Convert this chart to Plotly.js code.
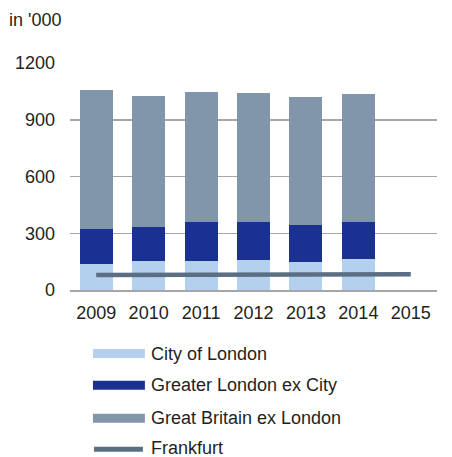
<!DOCTYPE html>
<html>
<head>
<meta charset="utf-8">
<script src="https://cdn.plot.ly/plotly-3.0.1.min.js"></script>
<style>html,body{margin:0;padding:0;background:#fff;}#chart{width:452px;height:457px;}</style>
</head>
<body>
<div id="chart"></div>
<script>
var years = ['2009', '2010', '2011', '2012', '2013', '2014', '2015'];
var barYears = ['2009', '2010', '2011', '2012', '2013', '2014'];
var cityOfLondon = [138, 152, 155, 161, 148, 164];
var greaterLondonExCity = [183, 182, 202, 199, 193, 193];
var greatBritainExLondon = [737, 690, 692, 682, 678, 681];
var frankfurt = [79, 80, 80, 81, 81, 82, 83];
var yTicks = [0, 300, 600, 900, 1200];
var seriesNames = ['City of London', 'Greater London ex City', 'Great Britain ex London', 'Frankfurt'];
var seriesColors = ['#b3d0ee', '#1a3192', '#8196aa', '#5b6f84'];

var FONT = 'Liberation Sans, Arial, sans-serif';
var W = 452, H = 457;
var L = 70, R = 14.5, T = 63.33, B = 167;
var pw = W - L - R, ph = H - T - B;
function px(x) { return (x - L) / pw; }
function py(y) { return (H - B - y) / ph; }

var traces = [
  {type: 'bar', x: barYears, y: cityOfLondon, name: seriesNames[0], marker: {color: seriesColors[0]}, showlegend: false},
  {type: 'bar', x: barYears, y: greaterLondonExCity, name: seriesNames[1], marker: {color: seriesColors[1]}, showlegend: false},
  {type: 'bar', x: barYears, y: greatBritainExLondon, name: seriesNames[2], marker: {color: seriesColors[2]}, showlegend: false},
  {type: 'scatter', mode: 'lines', x: years, y: frankfurt, name: seriesNames[3], line: {color: seriesColors[3], width: 4.5}, showlegend: false}
];

var legendY = [353.5, 385, 418, 448];
var shapes = [];
var annotations = [];
for (var i = 0; i < 4; i++) {
  if (i < 3) {
    shapes.push({type: 'rect', xref: 'paper', yref: 'paper', x0: px(93), x1: px(145), y0: py(legendY[i] - 4.5), y1: py(legendY[i] + 4.5), fillcolor: seriesColors[i], line: {width: 0}});
  } else {
    shapes.push({type: 'line', xref: 'paper', yref: 'paper', x0: px(94), x1: px(143), y0: py(legendY[i] + 1), y1: py(legendY[i] + 1), line: {color: seriesColors[i], width: 5}});
  }
  annotations.push({xref: 'paper', yref: 'paper', x: px(149), y: py(legendY[i]), xanchor: 'left', yanchor: 'middle', showarrow: false, text: seriesNames[i], font: {family: FONT, size: 18, color: '#231f20'}});
}

var layout = {
  width: W, height: H,
  margin: {l: L, r: R, t: T, b: B, pad: 0},
  paper_bgcolor: '#fff', plot_bgcolor: '#fff',
  barmode: 'stack', bargap: 0.37,
  showlegend: false,
  title: {text: "in '000", x: 9 / W, xanchor: 'left', xref: 'container', y: 1 - 20 / H, yanchor: 'middle', yref: 'container', font: {family: FONT, size: 18, color: '#231f20'}},
  font: {family: FONT, size: 18, color: '#231f20'},
  xaxis: {type: 'category', categoryorder: 'array', categoryarray: years, range: [-0.5, 6.5], showgrid: false, showline: true, linecolor: '#a6a6a6', linewidth: 1.5, ticks: '', tickfont: {family: FONT, size: 18, color: '#231f20'}, ticklabelstandoff: 6, fixedrange: true},
  yaxis: {range: [0, 1200], tickvals: yTicks, ticktext: yTicks.map(String), showgrid: true, gridcolor: '#a6a6a6', gridwidth: 1.5, zeroline: false, showline: false, ticks: '', tickfont: {family: FONT, size: 18, color: '#231f20'}, ticklabelstandoff: 14, fixedrange: true},
  shapes: shapes,
  annotations: annotations
};

Plotly.newPlot('chart', traces, layout, {displayModeBar: false, staticPlot: true});
</script>
</body>
</html>
